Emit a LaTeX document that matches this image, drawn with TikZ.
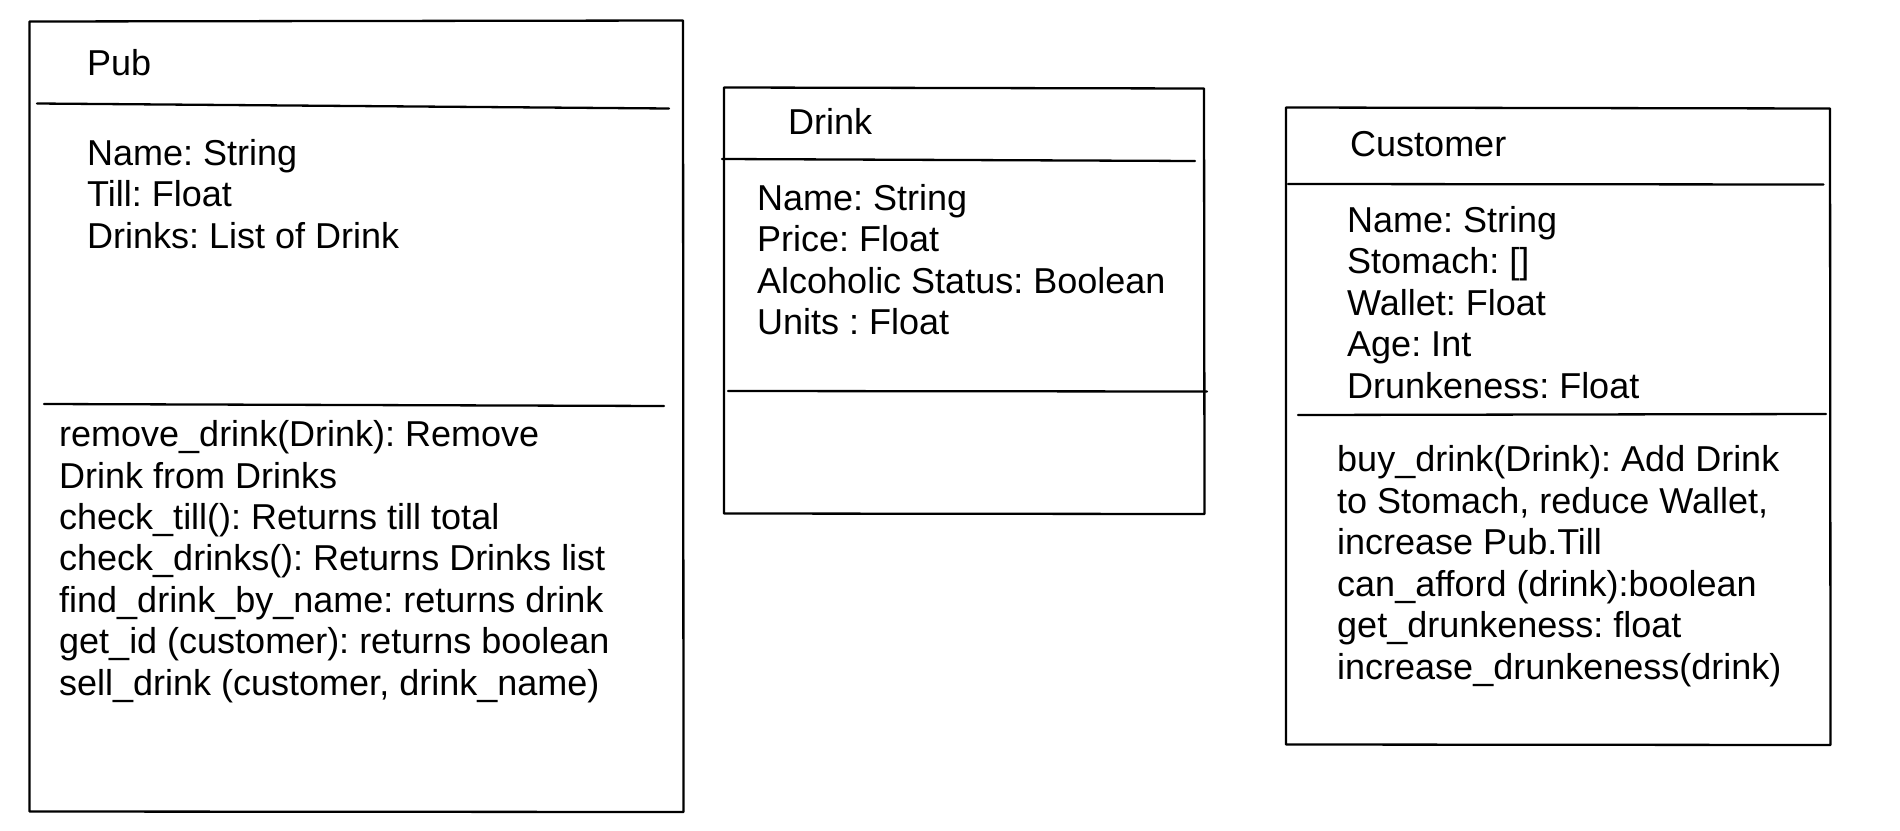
\documentclass[tikz,border=0pt]{standalone}
\usepackage{fontspec}
\setmainfont{Liberation Sans}
\frenchspacing
\begin{document}
\begin{tikzpicture}[x=1pt,y=-1pt,
  txt/.style={anchor=base west,inner sep=0pt,font=\fontsize{36}{41.5}\selectfont},
  frame/.style={line width=2.3pt,line join=round,line cap=round},
  sep/.style={line width=2.3pt,line cap=round}]
\useasboundingbox (0,0) rectangle (1900,830);
% ---------- Pub ----------
\draw[frame] (29.5,21.5) -- (683,20.5) -- (683.5,812) -- (29.5,811.5) -- cycle;
\draw[sep] (37,103.5) -- (669,108.5);
\draw[sep] (44,404) -- (664,406);
\node[txt] (pubtitle) at (87,75) {Pub};
\foreach \t [count=\i] in {Name: String, Till: Float, Drinks: List of Drink}
  \node[txt,name=puba\i] at (87,{165+41.5*(\i-1)}) {\frenchspacing\t};
\foreach \t [count=\i] in {remove\_drink(Drink): Remove, Drink from Drinks,
  check\_till(): Returns till total, check\_drinks(): Returns Drinks list,
  find\_drink\_by\_name: returns drink, get\_id (customer): returns boolean,
  {sell\_drink (customer, drink\_name)}}
  \node[txt,name=pubm\i] at (59,{446.7+41.4*(\i-1)}) {\frenchspacing\t};
% ---------- Drink ----------
\draw[frame] (724,87.5) -- (1204,88.5) -- (1204.5,514) -- (724,513.5) -- cycle;
\draw[sep] (722,159) -- (1195,161);
\draw[sep] (728,391) -- (1207,391.5);
\node[txt] (drinktitle) at (788,134.3) {Drink};
\foreach \t [count=\i] in {Name: String, Price: Float, Alcoholic Status: Boolean, Units : Float}
  \node[txt,name=drinka\i] at (757,{210+41.6*(\i-1)}) {\frenchspacing\t};
% ---------- Customer ----------
\draw[frame] (1286,107.5) -- (1830,108.5) -- (1830.5,745) -- (1286,744.5) -- cycle;
\draw[sep] (1288,184) -- (1823.5,184.5);
\draw[sep] (1298,415) -- (1826,414);
\node[txt] (custtitle) at (1350,156) {Customer};
\foreach \t [count=\i] in {Name: String, Stomach: [], Wallet: Float, Age: Int, Drunkeness: Float}
  \node[txt,name=custa\i] at (1347,{232+41.5*(\i-1)}) {\frenchspacing\t};
\foreach \t [count=\i] in {buy\_drink(Drink): Add Drink, {to Stomach, reduce Wallet,},
  increase Pub.Till, can\_afford (drink):boolean, get\_drunkeness: float,
  increase\_drunkeness(drink)}
  \node[txt,name=custm\i] at (1337,{471.5+41.6*(\i-1)}) {\frenchspacing\t};
\end{tikzpicture}
\end{document}
